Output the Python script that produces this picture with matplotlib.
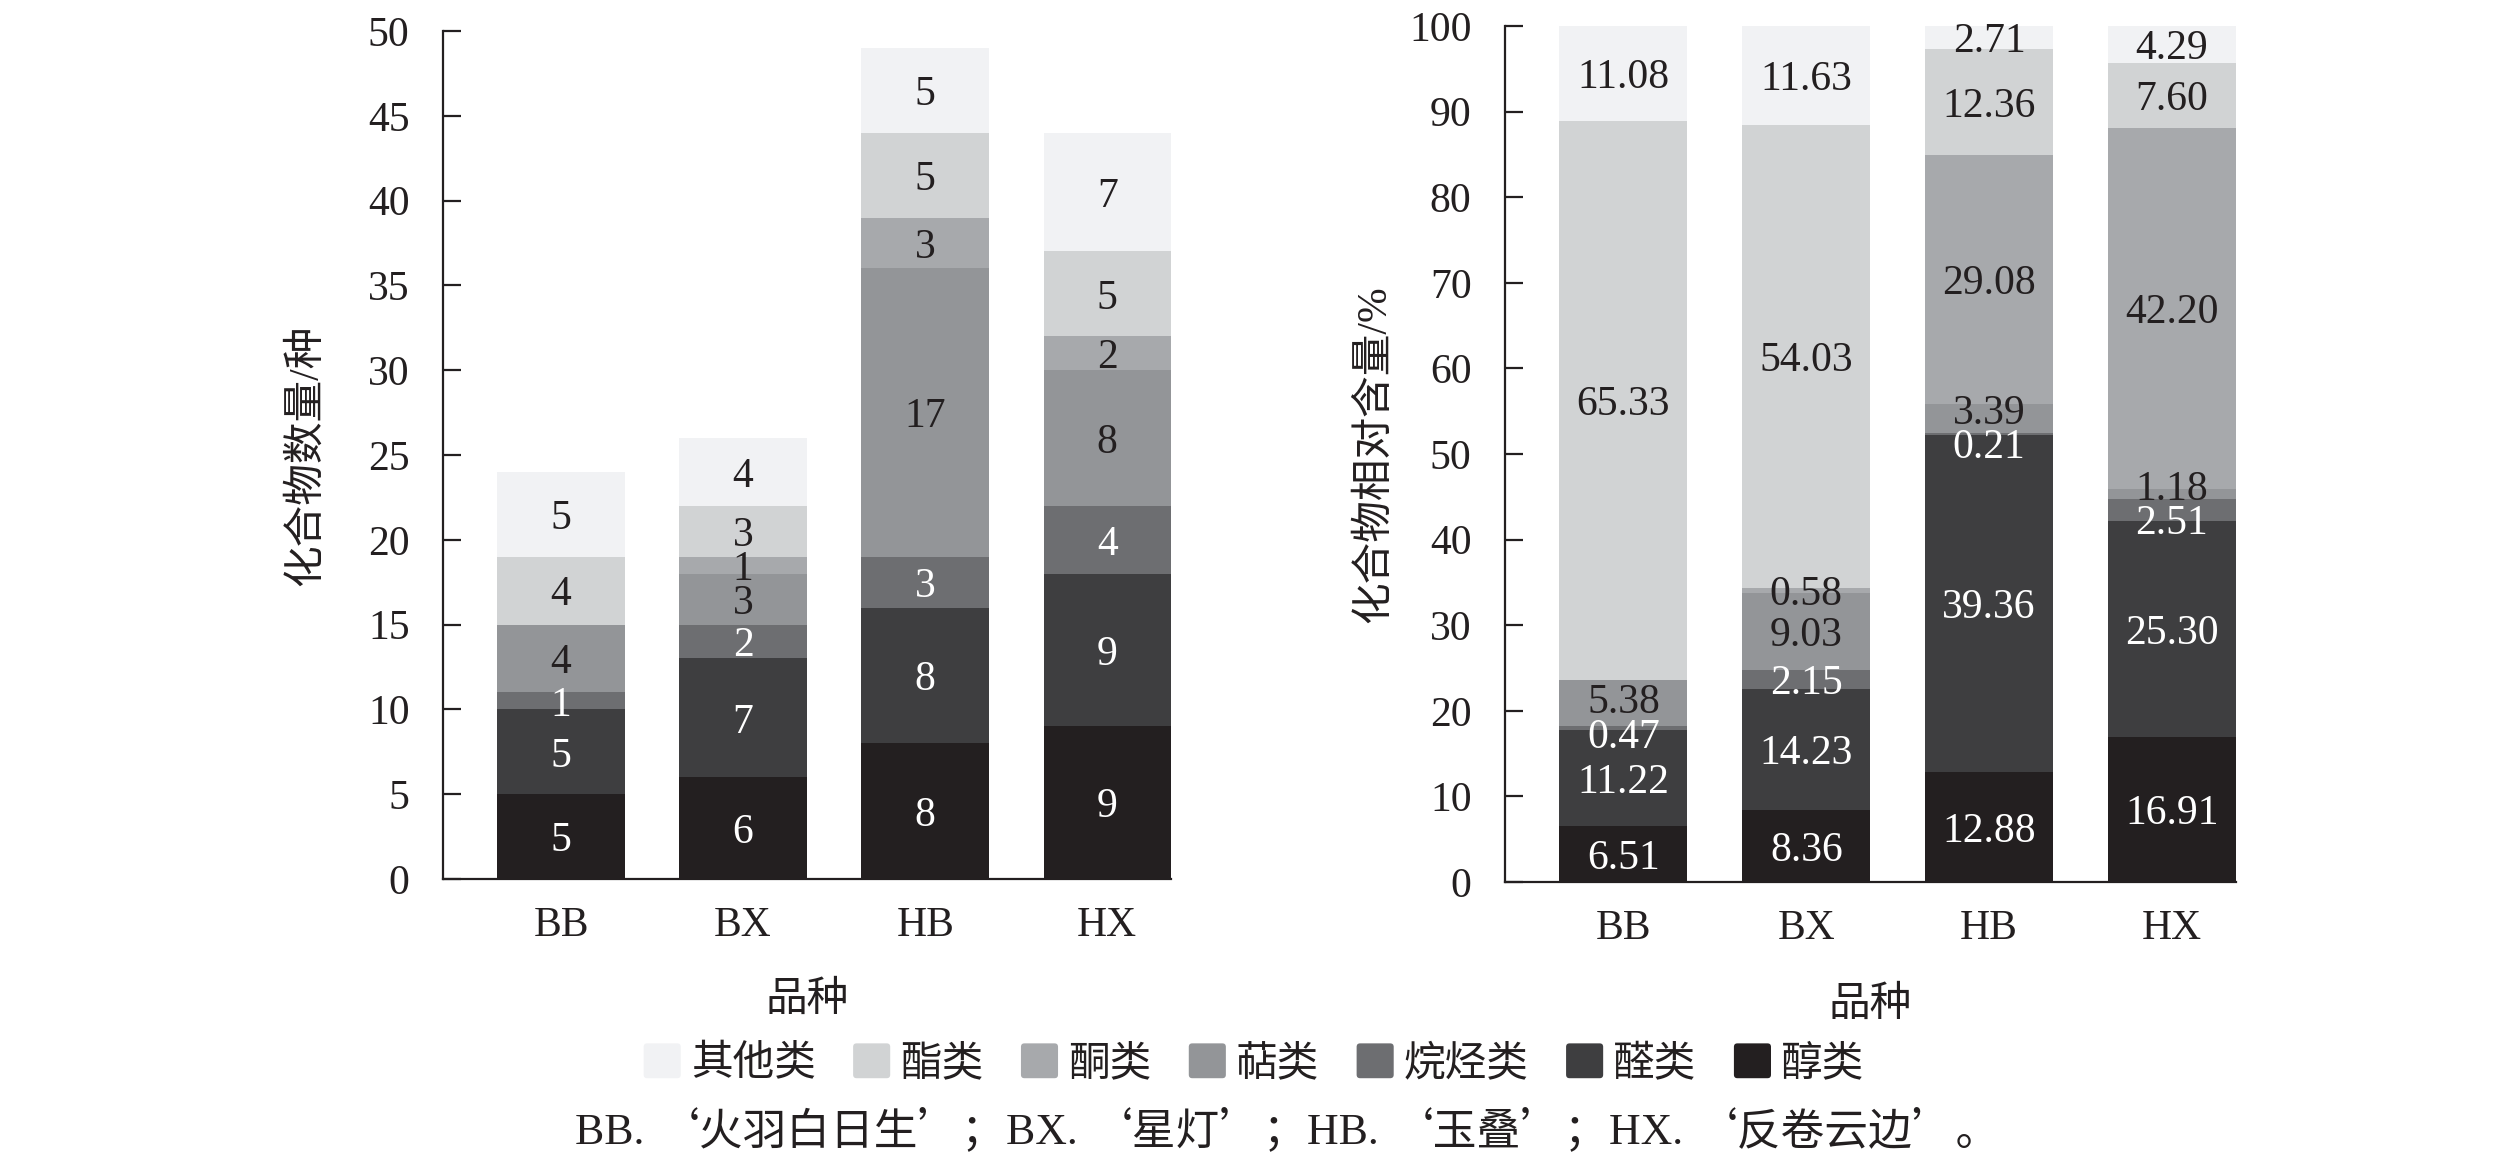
import matplotlib
matplotlib.use('Agg')
import matplotlib.pyplot as plt
from matplotlib.patches import Patch, FancyBboxPatch
from matplotlib.legend_handler import HandlerPatch
from matplotlib.offsetbox import TextArea, HPacker, AnchoredOffsetbox
import numpy as np

plt.rcParams['font.family'] = ['Liberation Serif', 'Noto Sans CJK SC']

# 品种与化合物类别（自下而上）
varieties = ['BB', 'BX', 'HB', 'HX']
classes = ['醇类', '醛类', '烷烃类', '萜类', '酮类', '酯类', '其他类']
colors = ['#231f20', '#3e3e40', '#6d6e71', '#939598', '#a7a9ac', '#d1d3d4', '#f1f2f4']
label_colors = ['white', 'white', 'white', '#231f20', '#231f20', '#231f20', '#231f20']

# 化合物数量/种
num_alcohol = [5, 6, 8, 9]
num_aldehyde = [5, 7, 8, 9]
num_alkane = [1, 2, 3, 4]
num_terpene = [4, 3, 17, 8]
num_ketone = [0, 1, 3, 2]
num_ester = [4, 3, 5, 5]
num_other = [5, 4, 5, 7]

# 化合物相对含量/%
pct_alcohol = [6.51, 8.36, 12.88, 16.91]
pct_aldehyde = [11.22, 14.23, 39.36, 25.30]
pct_alkane = [0.47, 2.15, 0.21, 2.51]
pct_terpene = [5.38, 9.03, 3.39, 1.18]
pct_ketone = [0.0, 0.58, 29.08, 42.20]
pct_ester = [65.33, 54.03, 12.36, 7.60]
pct_other = [11.08, 11.63, 2.71, 4.29]

counts = [num_alcohol, num_aldehyde, num_alkane, num_terpene, num_ketone, num_ester, num_other]
percents = [pct_alcohol, pct_aldehyde, pct_alkane, pct_terpene, pct_ketone, pct_ester, pct_other]

FS = 30
INK = '#231f20'


def spread(ys, min_sep):
    # 同一柱内相邻标签过近时上下推开
    ys = list(ys)
    for _ in range(20):
        for i in range(len(ys) - 1):
            gap = ys[i + 1] - ys[i]
            if gap < min_sep:
                d = (min_sep - gap) / 2
                ys[i] -= d
                ys[i + 1] += d
    return ys


def stacked(ax, series, fmt, ymax, ystep, ylabel, ylab_x, min_sep):
    x = np.arange(len(varieties))
    bottom = np.zeros(len(varieties))
    labels = [[] for _ in varieties]
    for vals, c, tc in zip(series, colors, label_colors):
        vals = np.array(vals, dtype=float)
        ax.bar(x, vals, width=0.7, bottom=bottom, color=c, linewidth=0)
        for i, (b, v) in enumerate(zip(bottom, vals)):
            if v > 0:
                labels[i].append((b + v / 2, fmt.format(v), tc))
        bottom += vals

    for xi, items in zip(x, labels):
        ys = spread([it[0] for it in items], min_sep)
        for y, (_, s, tc) in zip(ys, items):
            ax.text(xi, y, s, ha='center', va='center_baseline', fontsize=FS, color=tc)

    ax.set_xlim(-0.648, 3.35)
    ax.set_ylim(0, ymax)
    ax.set_yticks(np.arange(0, ymax + 1, ystep))
    ax.set_xticks(x)
    ax.set_xticklabels(varieties)
    for s in ['top', 'right']:
        ax.spines[s].set_visible(False)
    for s in ['left', 'bottom']:
        ax.spines[s].set_linewidth(1.6)
        ax.spines[s].set_color(INK)
    ax.tick_params(axis='y', direction='in', length=13, width=1.6, color=INK,
                   labelsize=FS, pad=24, labelcolor=INK)
    ax.tick_params(axis='x', length=0, labelsize=FS, pad=20, labelcolor=INK)

    ax.set_ylabel(ylabel, fontsize=FS, color=INK)
    ax.yaxis.set_label_coords(ylab_x, 0.5)
    ax.yaxis.label.set_va('center')
    ax.set_xlabel('品种', fontsize=FS, color=INK)
    ax.xaxis.set_label_coords(0.5, -0.144)
    ax.xaxis.label.set_va('center')


fig = plt.figure(figsize=(25.2, 11.55), dpi=100)
ax1 = fig.add_axes([0.1758, 0.2390, 0.2889, 0.7342])
ax2 = fig.add_axes([0.5972, 0.2364, 0.2901, 0.7411])

stacked(ax1, counts, '{:.0f}', 50, 5, '化合物数量/种', -0.187, 0)
stacked(ax2, percents, '{:.2f}', 100, 10, '化合物相对含量/%', -0.178, 4.0)


def rounded_patch(legend, orig_handle, xdescent, ydescent, width, height, fontsize):
    return FancyBboxPatch((-xdescent, -ydescent), width, height,
                          boxstyle='round,pad=0,rounding_size=2.5')


handles = [Patch(facecolor=c, edgecolor='none', label=n) for c, n in zip(colors, classes)][::-1]
fig.legend(handles=handles, ncol=7, loc='center', bbox_to_anchor=(0.4976, 0.079),
           frameon=False, fontsize=FS, handlelength=0.89, handleheight=0.91,
           handletextpad=0.24, columnspacing=0.9, labelcolor=INK,
           handler_map={Patch: HandlerPatch(patch_func=rounded_patch)})

# 图注：拉丁字母用衬线体，中文及全角标点用 CJK 字体
latin = ['Liberation Serif']
cjk = ['Noto Sans CJK SC']
caption_parts = [('BB. ', latin), ('‘火羽白日生’；', cjk), ('BX. ', latin), ('‘星灯’；', cjk),
                 ('HB. ', latin), ('‘玉叠’；', cjk), ('HX. ', latin), ('‘反卷云边’。', cjk)]
boxes = [TextArea(s, textprops=dict(fontsize=31.5, family=f, color=INK)) for s, f in caption_parts]
pack = HPacker(children=boxes, pad=0, sep=0, align='baseline')
ab = AnchoredOffsetbox(loc='center', child=pack, bbox_to_anchor=(0.511, 0.021),
                       bbox_transform=fig.transFigure, frameon=False, pad=0, borderpad=0)
fig.add_artist(ab)

fig.savefig('out.png', dpi=100)
